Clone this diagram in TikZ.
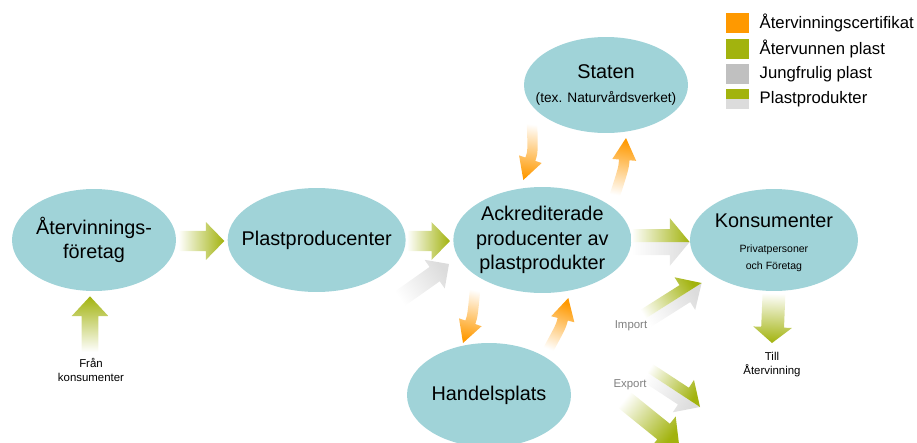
\documentclass[tikz,border=0pt]{standalone}
\usepackage{fontspec}
\setmainfont{Liberation Sans}
\usetikzlibrary{positioning,calc,shapes.geometric}

\definecolor{basin}{HTML}{A0D3D8}
\definecolor{certorange}{HTML}{FF9900}
\definecolor{recgreen}{HTML}{A2B30E}
\definecolor{virgingray}{HTML}{C0C0C0}
\definecolor{prodgray}{HTML}{DCDCDC}

\newcommand\partyfont{\fontsize{11.3}{13.9}\selectfont}
\newcommand\notefont{\fontsize{6.5}{8}\selectfont}

\tikzset{
  flow shaft/.store in=\flowshaft,
  flow head/.store in=\flowhead,
  flow tip/.store in=\flowtip,
  flow bend/.store in=\flowbend,
  flow colour/.store in=\flowcolour,
  flow split/.store in=\flowsplit,
  flow shaft=5.8pt, flow head=10.8pt, flow tip=10.5pt, flow bend=0pt,
  flow colour=recgreen, flow split=,
  recflow/.style={flow colour=recgreen},
  virginflow/.style={flow colour=prodgray, flow shaft=5pt, flow head=10pt, flow tip=10pt},
  prodflow/.style={flow colour=recgreen, flow split=prodgray},
  certflow/.style={flow colour=certorange, flow shaft=3pt, flow head=6.8pt, flow tip=12.5pt},
  party/.style={ellipse, fill=basin, inner sep=0pt},
  party text/.style={align=center, inner sep=0pt, font=\partyfont},
  legendbox/.style={minimum width=0.46cm, minimum height=0.4cm, inner sep=0pt},
  legendtext/.style={anchor=west, inner sep=0pt, font=\fontsize{9.5}{11}\selectfont},
  note/.style={align=center, inner sep=0pt, font=\notefont},
  trade/.style={inner sep=0pt, text=black!50, font=\notefont}
}

% block arrow with a faded tail, from #2 to #3
\newcommand\flow[3][]{%
  \begin{scope}[#1]
    \coordinate (fa) at (#2);
    \coordinate (fb) at (#3);
    \coordinate (fq) at ($(fa)!.5!(fb)!\flowbend!90:(fb)$);
    \coordinate (fc) at ($(fb)!\flowtip!(fq)$);
    \coordinate (faL) at ($(fa)!\flowshaft!90:(fq)$);
    \coordinate (faR) at ($(fa)!\flowshaft!-90:(fq)$);
    \coordinate (fcL) at ($(fc)!\flowshaft!90:(fb)$);
    \coordinate (fcR) at ($(fc)!\flowshaft!-90:(fb)$);
    \coordinate (fhL) at ($(fc)!\flowhead!90:(fb)$);
    \coordinate (fhR) at ($(fc)!\flowhead!-90:(fb)$);
    \coordinate (fqL) at ($(fq)+0.5*(faL)-0.5*(fa)+0.5*(fcL)-0.5*(fc)$);
    \coordinate (fqR) at ($(fq)+0.5*(faR)-0.5*(fa)+0.5*(fcR)-0.5*(fc)$);
    \pgfmathanglebetweenpoints{\pgfpointanchor{fa}{center}}{\pgfpointanchor{fb}{center}}%
    \pgfmathsetmacro\flowangle{\pgfmathresult-90}%
    \ifx\flowsplit\empty
      \shade[top color=\flowcolour, bottom color=white, shading angle=\flowangle]
        (faL) .. controls (fqL) .. (fcL) -- (fhL) -- (fb) -- (fhR) -- (fcR)
        .. controls (fqR) .. (faR) -- cycle;
    \else
      \shade[top color=\flowsplit, bottom color=white, shading angle=\flowangle]
        (fa) .. controls (fq) .. (fc) -- (fb) -- (fhR) -- (fcR)
        .. controls (fqR) .. (faR) -- cycle;
      \shade[top color=\flowcolour, bottom color=white, shading angle=\flowangle]
        (fa) .. controls (fq) .. (fc) -- (fb) -- (fhL) -- (fcL)
        .. controls (fqL) .. (faL) -- cycle;
    \fi
  \end{scope}}

\begin{document}
\begin{tikzpicture}[x=0.02cm, y=-0.02cm, node distance=1cm]
  \useasboundingbox (0,0) rectangle (917,443);

  % parties
  \node[party, minimum width=3.28cm, minimum height=2.04cm,
    label={[party text]center:Återvinnings-\\företag}] (aterv) at (94,240) {};
  \node[party, minimum width=3.56cm, minimum height=2.08cm, right=1.02cm of aterv,
    label={[party text]center:Plastproducenter}] (plast) {};
  \node[party, minimum width=3.56cm, minimum height=2.12cm, right=0.94cm of plast,
    label={[party text]center:Ackrediterade\\producenter av\\plastprodukter}] (ackred) {};
  \node[party, minimum width=3.36cm, minimum height=2.04cm, right=1.16cm of ackred,
    label={[party text, yshift=-1.5pt]center:Konsumenter\\[0.4pt]{\fontsize{6}{7}\selectfont Privatpersoner}\\[-4.6pt]{\fontsize{6}{7}\selectfont och Företag}}] (kons) {};
  \node[party, minimum width=3.28cm, minimum height=1.92cm,
    label={[party text]center:Staten\\[0pt]{\fontsize{7.8}{9}\selectfont (tex. Naturvårdsverket)}}] (staten) at (606,85) {};
  \node[party, minimum width=3.28cm, minimum height=2.08cm,
    label={[party text]center:Handelsplats}] (handel) at (489,395) {};

  % free ends
  \coordinate (virgin) at (398,300);
  \coordinate (imp-from) at (640,322);
  \coordinate (exp-from) at (642,369);
  \coordinate (exp-to) at (700,407);
  \coordinate (exp2-from) at (622,398);
  \coordinate (exp2-to) at (679,444);
  \coordinate (fran-top) at (90,352);
  \coordinate (till-top) at (772,343);

  % material flows
  \flow[recflow]{$(aterv.east)+(2,1)$}{$(plast.west)+(-3,1)$}
  \flow[recflow]{$(plast.east)+(1,1)$}{$(ackred.west)+(-3,1)$}
  \flow[virginflow]{virgin}{$(ackred.west)+(-4,24)$}
  \flow[prodflow, flow shaft=7.4pt, flow head=13.6pt, flow tip=11.3pt]{$(ackred.east)+(0,2)$}{$(kons.west)+(0,2)$}
  \flow[prodflow, flow shaft=5.7pt, flow head=11pt, flow tip=11.3pt]{imp-from}{$(kons.west)+(12,43)$}
  \flow[prodflow, flow shaft=5.7pt, flow head=11pt, flow tip=11.3pt]{exp-from}{exp-to}
  \flow[recflow, flow shaft=5.7pt, flow head=11pt, flow tip=11.3pt]{exp2-from}{exp2-to}
  \flow[recflow, flow shaft=6.5pt, flow head=11pt, flow tip=9pt]{$(kons.south)+(0,2)$}{till-top}
  \flow[recflow, flow shaft=4.8pt, flow head=10.5pt, flow tip=11.3pt]{fran-top}{$(aterv.south)+(-4,5)$}

  % certificates
  \flow[certflow, flow bend=3pt]{$(staten)+(-74,37)$}{$(ackred)+(-19,-60)$}
  \flow[certflow, flow bend=-2pt]{$(ackred)+(72,-43)$}{$(staten)+(20,53)$}
  \flow[certflow, flow bend=2pt]{$(ackred)+(-67,47)$}{$(handel)+(-26,-52)$}
  \flow[certflow, flow bend=-2pt]{$(handel)+(58,-43)$}{$(ackred)+(26,58)$}

  % free texts
  \node[note] (fran) at (91,370) {Från\\konsumenter};
  \node[note] (till) at (772,365) {Till\\Återvinning};
  \node[trade] (imp-lbl) at (631,326) {Import};
  \node[trade] (exp-lbl) at (630,385) {Export};

  % legend
  \node[legendbox, fill=certorange] (lg-cert) at (737.5,23) {};
  \node[legendtext, right=0.2cm of lg-cert] (lg-cert-txt) {Återvinningscertifikat};
  \node[legendbox, fill=recgreen, below=0.1cm of lg-cert] (lg-rec) {};
  \node[legendtext, right=0.2cm of lg-rec] (lg-rec-txt) {Återvunnen plast};
  \node[legendbox, fill=virgingray, below=0.1cm of lg-rec] (lg-virgin) {};
  \node[legendtext, right=0.2cm of lg-virgin] (lg-virgin-txt) {Jungfrulig plast};
  \node[legendbox, fill=prodgray, below=0.08cm of lg-virgin,
    path picture={\fill[recgreen] (path picture bounding box.north west) rectangle (path picture bounding box.east);}] (lg-prod) {};
  \node[legendtext, right=0.2cm of lg-prod] (lg-prod-txt) {Plastprodukter};
\end{tikzpicture}
\end{document}
